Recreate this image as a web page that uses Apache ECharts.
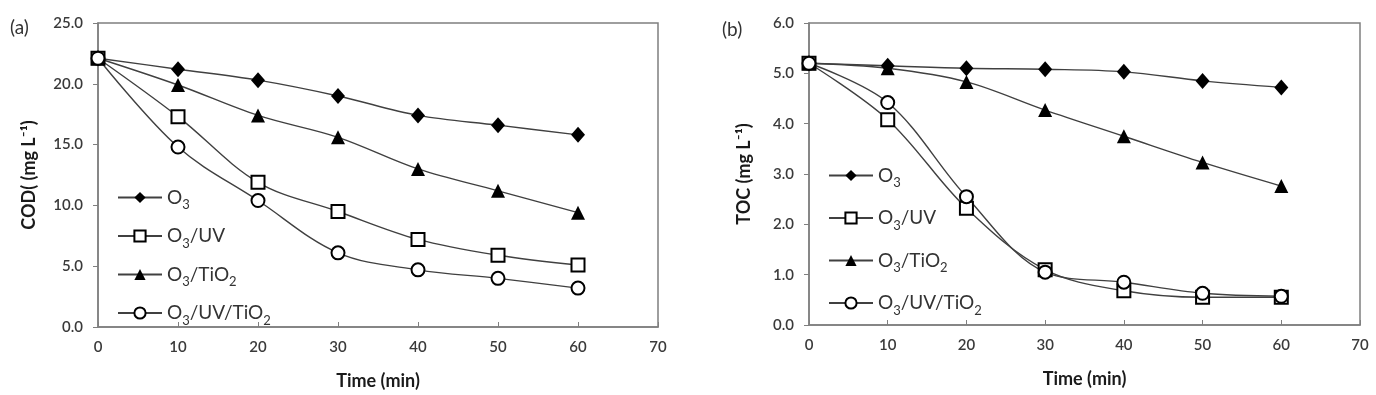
<!DOCTYPE html>
<html>
<head>
<meta charset="utf-8">
<script src="https://cdn.jsdelivr.net/npm/echarts@6/dist/echarts.min.js"></script>
<style>
  html, body { margin: 0; padding: 0; background: #fff; }
  #chart { width: 1376px; height: 395px; }
</style>
</head>
<body>
<div id="chart"></div>
<script>
// sampling times (min)
var times = [0, 10, 20, 30, 40, 50, 60]

// COD (mg L-1), panel (a)
var codO3 = [22.1, 21.2, 20.3, 19.0, 17.4, 16.6, 15.8]
var codO3UV = [22.1, 17.3, 11.9, 9.5, 7.2, 5.9, 5.1]
var codO3TiO2 = [22.1, 19.9, 17.4, 15.6, 13.0, 11.2, 9.4]
var codO3UVTiO2 = [22.1, 14.8, 10.4, 6.1, 4.7, 4.0, 3.2]

// TOC (mg L-1), panel (b)
var tocO3 = [5.2, 5.15, 5.1, 5.08, 5.03, 4.85, 4.72]
var tocO3UV = [5.2, 4.08, 2.32, 1.1, 0.68, 0.55, 0.55]
var tocO3TiO2 = [5.2, 5.1, 4.83, 4.27, 3.75, 3.23, 2.76]
var tocO3UVTiO2 = [5.2, 4.42, 2.55, 1.05, 0.85, 0.63, 0.57]

var seriesNames = ['O3', 'O3/UV', 'O3/TiO2', 'O3/UV/TiO2']

var FONT = 'Lato'
var LINE = '#404040'
var AXIS = '#7f7f7f'

function pairs(ys) {
  return times.map(function (t, i) { return [t, ys[i]] })
}

// digits become subscripts in the legend, everything else normal
function subName(name) {
  return name.split(/(\d)/).filter(function (p) { return p !== '' }).map(function (p) {
    return /^\d$/.test(p) ? '{s|' + p + '}' : '{n|' + p + '}'
  }).join('')
}

var markers = [
  { symbol: 'diamond', size: [14, 16], fill: '#000' },
  { symbol: 'rect', size: 13, fill: '#fff' },
  { symbol: 'triangle', size: 14, fill: '#000' },
  { symbol: 'circle', size: 13, fill: '#fff' }
]

function makeSeries(dataList, idx) {
  return dataList.map(function (ys, i) {
    var m = markers[i]
    return {
      name: seriesNames[i],
      type: 'line',
      xAxisIndex: idx,
      yAxisIndex: idx,
      data: pairs(ys),
      smooth: 0.35,
      symbol: m.symbol,
      symbolSize: m.size,
      showAllSymbol: true,
      lineStyle: { color: LINE, width: 1.4 },
      itemStyle: { color: m.fill, borderColor: '#000', borderWidth: m.fill === '#fff' ? 2 : 0 },
      z: 3
    }
  })
}

function xAxisCfg(idx) {
  return {
    type: 'value',
    gridIndex: idx,
    min: 0,
    max: 70,
    interval: 10,
    name: 'Time (min)',
    nameLocation: 'middle',
    nameGap: 45,
    nameTextStyle: { fontFamily: FONT, fontSize: 18, fontWeight: 'bold', color: '#1a1a1a' },
    axisLine: { onZero: false, lineStyle: { color: AXIS, width: 1.5 } },
    axisTick: { inside: true, length: 5, lineStyle: { color: AXIS } },
    axisLabel: { margin: 13, fontFamily: FONT, fontSize: 15, fontWeight: 600, color: '#3a3a3a' },
    splitLine: { show: false }
  }
}

function yAxisCfg(idx, max, interval, name, gap) {
  return {
    type: 'value',
    gridIndex: idx,
    min: 0,
    max: max,
    interval: interval,
    name: name,
    nameLocation: 'middle',
    nameGap: gap,
    nameTextStyle: { fontFamily: FONT, fontSize: 18, fontWeight: 'bold', color: '#1a1a1a' },
    axisLine: { show: true, lineStyle: { color: AXIS, width: 1.5 } },
    axisTick: { show: true, length: 5, lineStyle: { color: AXIS } },
    axisLabel: {
      margin: 15,
      fontFamily: FONT,
      fontSize: 15,
      fontWeight: 600,
      color: '#3a3a3a',
      formatter: function (v) { return v.toFixed(1) }
    },
    splitLine: { show: false }
  }
}

function legendCfg(idx, left, top, gap) {
  return {
    data: seriesNames,
    orient: 'vertical',
    left: left,
    top: top,
    itemGap: gap,
    itemWidth: 44,
    itemHeight: 14,
    formatter: function (name) { return subName(name) },
    textStyle: {
      fontFamily: FONT,
      color: '#333',
      rich: {
        n: { fontFamily: FONT, fontSize: 19, color: '#333', lineHeight: 22 },
        s: { fontFamily: FONT, fontSize: 13, color: '#333', lineHeight: 12, verticalAlign: 'bottom', padding: [0, 0, -3, 0] }
      }
    },
    selectedMode: false
  }
}

var chart = echarts.init(document.getElementById('chart'), null, { renderer: 'canvas' })

chart.setOption({
  backgroundColor: '#fff',
  animation: false,
  title: [
    { text: '(a)', left: 5, top: 13, textStyle: { fontFamily: FONT, fontSize: 19, fontWeight: 'normal', color: '#333' } },
    { text: '(b)', left: 717, top: 15, textStyle: { fontFamily: FONT, fontSize: 19, fontWeight: 'normal', color: '#333' } }
  ],
  grid: [
    { left: 98, right: 718, top: 23, bottom: 68, show: true, borderColor: AXIS, borderWidth: 1.5 },
    { left: 809, right: 16, top: 23, bottom: 70, show: true, borderColor: AXIS, borderWidth: 1.5 }
  ],
  legend: [
    legendCfg(0, 112, 183, 15),
    legendCfg(1, 823, 161, 19)
  ],
  xAxis: [xAxisCfg(0), xAxisCfg(1)],
  yAxis: [
    yAxisCfg(0, 25, 5, 'COD( (mg L⁻¹)', 60),
    yAxisCfg(1, 6, 1, 'TOC (mg L⁻¹)', 56)
  ],
  series: makeSeries([codO3, codO3UV, codO3TiO2, codO3UVTiO2], 0)
    .concat(makeSeries([tocO3, tocO3UV, tocO3TiO2, tocO3UVTiO2], 1))
})

window.addEventListener('resize', function () {
  chart.resize()
})
</script>
</body>
</html>
